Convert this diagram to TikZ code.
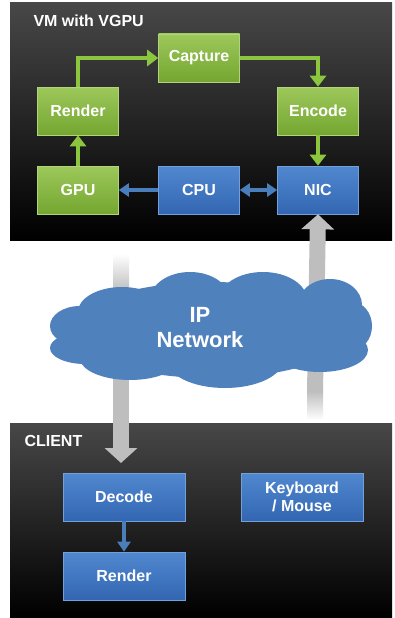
\documentclass[tikz,border=0pt]{standalone}
\usepackage{fontspec}
\setsansfont{Liberation Sans}
\usetikzlibrary{arrows.meta}

\definecolor{verdeclaro}{HTML}{9DC85B}
\definecolor{verdeescuro}{HTML}{74A630}
\definecolor{verdeseta}{HTML}{8CC63F}
\definecolor{azulclaro}{HTML}{5088CF}
\definecolor{azulescuro}{HTML}{3366B2}
\definecolor{azulseta}{HTML}{4A7EBB}
\definecolor{azulnuvem}{HTML}{4F81BD}
\definecolor{cinzaseta}{HTML}{BEBEBE}

\begin{document}
\begin{tikzpicture}[
		  x=1pt, y=-1pt,
		  every node/.style={font=\sffamily\bfseries\fontsize{16}{18}\selectfont, text=white}
		]

		\tikzset{
		    painel/.style={top color=black!72, middle color=black, bottom color=black},
		    caixaverde/.style={rectangle, top color=verdeclaro, bottom color=verdeescuro, draw=verdeclaro!80!white, line width=0.6pt, minimum width=81pt, minimum height=48pt, inner sep=1pt},
		    caixaazul/.style={rectangle, top color=azulclaro, bottom color=azulescuro, draw=azulclaro!80!white, line width=0.6pt, minimum width=81pt, minimum height=48pt, inner sep=1pt, align=center},
		    setaverde/.style={draw=verdeseta, line width=4pt, -{Triangle[length=11pt, width=16pt]}},
		    setaazul/.style={draw=azulseta, line width=3.5pt, -{Triangle[length=10pt, width=13pt]}},
		    setacinza/.style={draw=cinzaseta, line width=16pt, -{Triangle[length=15pt, width=32pt]}}
		}

		\useasboundingbox[fill=white] (0,0) rectangle (395,618);

		% Maquina virtual
		\shade[painel] (10,3) rectangle (392,240);
		\node[anchor=west] (tituloVM) at (30,21) {VM with VGPU};

		\node[caixaverde] (Capture) at (199,58) {Capture};
		\node[caixaverde] (Render) at (78,111) {Render};
		\node[caixaverde] (Encode) at (318,111) {Encode};
		\node[caixaverde] (GPU) at (78,190) {GPU};
		\node[caixaazul] (CPU) at (199,190) {CPU};
		\node[caixaazul] (NIC) at (318,190) {NIC};

		\draw[setaverde] (GPU) -- (Render);
		\draw[setaverde] (Render.north) |- (Capture.west);
		\draw[setaverde] (Capture.east) -| (Encode.north);
		\draw[setaverde] (Encode) -- (NIC);
		\draw[setaazul] (CPU) -- (GPU);
		\draw[setaazul, {Triangle[length=10pt, width=13pt]}-{Triangle[length=10pt, width=13pt]}] (CPU) -- (NIC);

		% Cliente
		\shade[painel] (10,423) rectangle (392,617);
		\node[anchor=west] (tituloCliente) at (21,441) {CLIENT};

		\node[caixaazul, minimum width=122pt] (Decode) at (124,497) {Decode};
		\node[caixaazul, minimum width=122pt] (RenderC) at (124,576) {Render};
		\node[caixaazul, minimum width=122pt] (Teclado) at (302,497) {Keyboard\\/ Mouse};

		\draw[setaazul] (Decode) -- (RenderC);

		% setas grandes pela rede
		\coordinate (subida) at (315,392);
		\coordinate (descida) at (121,290);
		\shade[top color=cinzaseta, bottom color=white] (307,391) rectangle (323,420);
		\shade[top color=white, bottom color=cinzaseta] (113,254) rectangle (129,291);
		\draw[setacinza] (subida) -- (NIC.south);
		\draw[setacinza] (descida) -- (121,463);

		% nuvem: uniao de elipses
		\foreach \cx/\cy/\rx/\ry in {211/330/140/48, 80/326/30/20, 85/348/35/16,
		    122/312/44/25, 190/300/40/28, 263/300/44/28, 330/305/32/26,
		    352/326/20/24, 320/350/48/22, 225/360/58/28, 130/358/50/22}
		  \fill[azulnuvem] (\cx,\cy) ellipse [x radius=\rx pt, y radius=\ry pt];
		\node[align=center, font=\sffamily\bfseries\fontsize{22}{25}\selectfont] (Rede) at (200,328) {IP\\Network};

		\end{tikzpicture}
\end{document}
